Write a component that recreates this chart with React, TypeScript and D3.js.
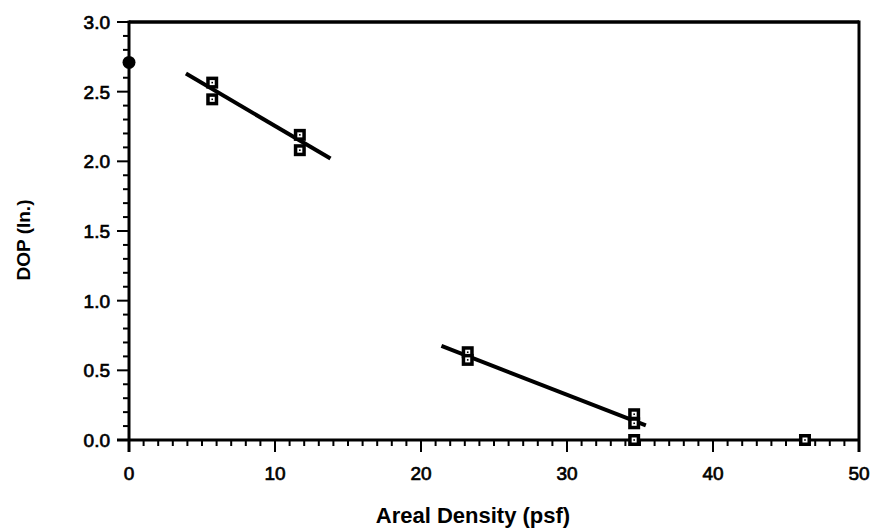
import React from "react";
import * as d3 from "d3";

const W = 876;
const H = 531;

// data
const squareX = [5.7, 5.7, 11.7, 11.7, 23.2, 23.2, 34.6, 34.6, 34.6, 46.3];
const squareY = [2.565, 2.445, 2.19, 2.08, 0.63, 0.575, 0.185, 0.12, 0.0, 0.0];
const filledX = [0];
const filledY = [2.71];
const fit1X = [3.9, 13.8];
const fit1Y = [2.63, 2.02];
const fit2X = [21.4, 35.4];
const fit2Y = [0.675, 0.105];
const xTicks = [0, 10, 20, 30, 40, 50];
const yTicks = [0, 0.5, 1.0, 1.5, 2.0, 2.5, 3.0];

const left = 129;
const right = 859;
const top = 22;
const bottom = 440;

export default function App() {
  const x = d3.scaleLinear().domain([0, 50]).range([left, right]);
  const y = d3.scaleLinear().domain([0, 3]).range([bottom, top]);
  const line = d3
    .line<[number, number]>()
    .x((d) => x(d[0]))
    .y((d) => y(d[1]));

  const xMinor = d3.range(0, 51, 1);
  const yMinor = d3.range(0, 30.5, 1).map((v) => v / 10);

  const fit1 = fit1X.map((v, i) => [v, fit1Y[i]] as [number, number]);
  const fit2 = fit2X.map((v, i) => [v, fit2Y[i]] as [number, number]);

  const font = "'Liberation Sans', Arial, Helvetica, sans-serif";

  return (
    <div style={{ position: "absolute", left: 0, top: 0 }}>
      <svg width={W} height={H} style={{ display: "block", background: "#fff" }}>
        {/* frame */}
        <line x1={x(0)} x2={x(50)} y1={y(3)} y2={y(3)} stroke="#000" strokeWidth={3.5} />
        <line x1={x(50)} x2={x(50)} y1={y(3) - 1.5} y2={y(0) + 12} stroke="#000" strokeWidth={3} />
        <line x1={x(0)} x2={x(0)} y1={y(3) - 1.5} y2={y(0) + 12} stroke="#000" strokeWidth={3} />
        <line x1={x(0) - 12} x2={x(50) + 1} y1={y(0)} y2={y(0)} stroke="#000" strokeWidth={3} />

        {/* x ticks */}
        {xMinor.map((v) => (
          <line
            key={"xm" + v}
            x1={x(v)}
            x2={x(v)}
            y1={y(0)}
            y2={y(0) + (v % 10 === 0 ? 12 : 6)}
            stroke="#000"
            strokeWidth={2}
          />
        ))}
        {/* y ticks */}
        {yMinor.map((v, i) => (
          <line
            key={"ym" + i}
            x1={x(0)}
            x2={x(0) - (i % 5 === 0 ? 12 : 6)}
            y1={y(v)}
            y2={y(v)}
            stroke="#000"
            strokeWidth={2}
          />
        ))}

        {/* x tick labels */}
        {xTicks.map((v) => (
          <text
            key={"xl" + v}
            x={x(v)}
            y={480}
            textAnchor="middle"
            fontFamily={font}
            fontSize={19}
            stroke="#000"
            strokeWidth={0.7}
          >
            {v}
          </text>
        ))}
        {/* y tick labels */}
        {yTicks.map((v) => (
          <text
            key={"yl" + v}
            x={110}
            y={y(v) + 7}
            textAnchor="end"
            fontFamily={font}
            fontSize={19}
            stroke="#000"
            strokeWidth={0.7}
          >
            {v.toFixed(1)}
          </text>
        ))}

        {/* axis titles */}
        <text
          x={(x(0) + x(50)) / 2 - 21}
          y={523}
          textAnchor="middle"
          fontFamily={font}
          fontWeight="bold"
          fontSize={22}
        >
          Areal Density (psf)
        </text>
        <text
          transform={`translate(30,240) rotate(-90)`}
          textAnchor="middle"
          fontFamily={font}
          fontWeight="bold"
          fontSize={19}
        >
          DOP (In.)
        </text>

        {/* fit lines */}
        <path d={line(fit1) || ""} fill="none" stroke="#000" strokeWidth={4} />
        <path d={line(fit2) || ""} fill="none" stroke="#000" strokeWidth={4} />

        {/* square markers */}
        {squareX.map((v, i) => {
          const cx = x(v);
          const cy = y(squareY[i]);
          return (
            <g key={"sq" + i}>
              <rect x={cx - 6} y={cy - 6} width={12} height={12} fill="#000" />
              <rect x={cx - 2.5} y={cy - 2.5} width={5} height={5} fill="#fff" />
              <rect x={cx - 0.8} y={cy - 0.8} width={1.6} height={1.6} fill="#000" />
            </g>
          );
        })}

        {/* filled circle */}
        {filledX.map((v, i) => (
          <circle key={"fc" + i} cx={x(v)} cy={y(filledY[i])} r={6.5} fill="#000" />
        ))}
      </svg>
    </div>
  );
}
